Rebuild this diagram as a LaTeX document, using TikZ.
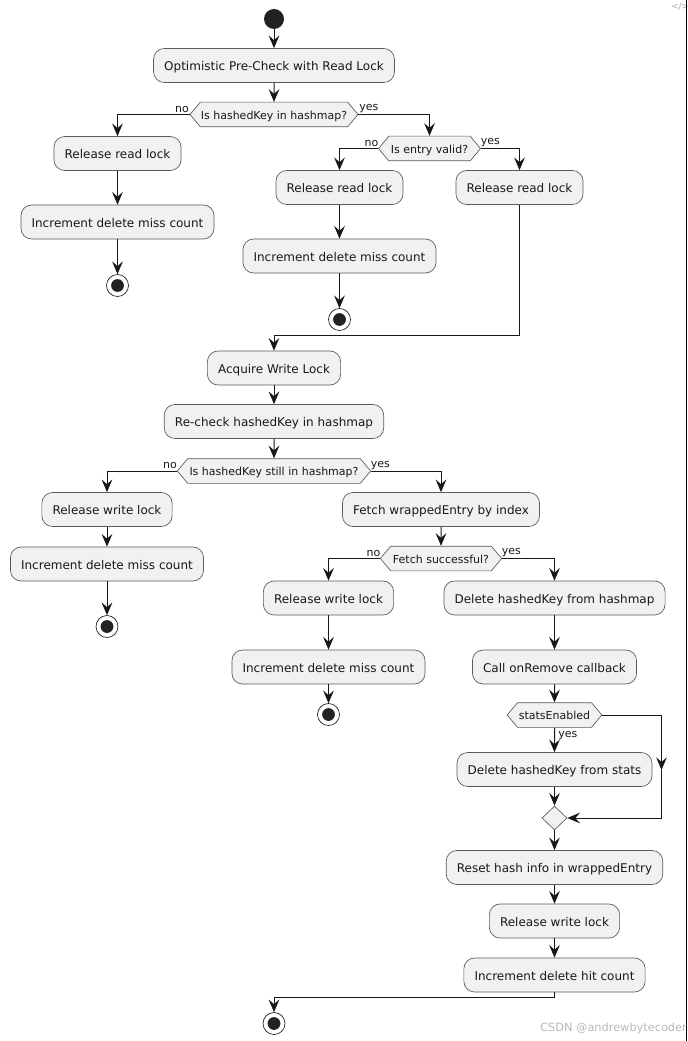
\documentclass[tikz,border=0pt]{standalone}
\usepackage{fontspec}
\setmainfont{DejaVu Sans}
\usepackage{xcolor}
\usepackage{tikz}
\usetikzlibrary{shapes.geometric, shapes.symbols, arrows.meta}
\definecolor{umlfill}{HTML}{F1F1F1}
\definecolor{umlline}{HTML}{181818}
\definecolor{umlborder}{HTML}{5A5A5A}
\definecolor{umldot}{HTML}{222222}
\tikzset{
    action/.style={draw=umlborder, fill=umlfill, line width=0.5pt, rounded corners=8pt, font=\fontsize{9}{11}\selectfont, text=umlline, inner xsep=8pt, minimum height=25.5pt, text height=8.5pt, text depth=0.5pt, inner ysep=0pt},
    choice/.style={draw=umlborder, fill=umlfill, line width=0.5pt, shape=signal, signal to=east and west, signal pointer angle=100, font=\fontsize{8.25}{10}\selectfont, text=umlline, inner xsep=0pt, inner ysep=0pt, minimum height=18.5pt, text height=7.5pt, text depth=0.5pt},
    merge/.style={draw=umlborder, fill=umlfill, line width=0.5pt, shape=diamond, minimum width=18.75pt, minimum height=18pt, inner sep=0pt},
    startdot/.style={circle, fill=umldot, minimum size=15pt, inner sep=0pt},
    stopdot/.style={circle, draw=umlline, fill=white, line width=0.5pt, minimum size=16.5pt, inner sep=0pt, path picture={\fill[umldot] (path picture bounding box.center) circle (4.8pt);}},
    branch/.style={font=\fontsize{8.25}{10}\selectfont, text=umlline, inner sep=0pt},
    flow/.style={draw=umlline, line width=0.75pt, -{Stealth[length=9.5pt, width=8pt, inset=3.5pt]}},
    plainflow/.style={draw=umlline, line width=0.75pt},
}
\begin{document}
\begin{tikzpicture}[x=0.75pt, y=-0.75pt]
    \clip (0,0) rectangle (687,1041);

    % Top part
    \node[startdot] (start) at (274,19) {};
    \node[action] (precheck) at (274,65.5) {Optimistic Pre-Check with Read Lock};
    \node[choice, minimum width=126pt] (inmap) at (274,114.5) {Is hashedKey in hashmap?};
    \node[action] (relreadA) at (117.5,153.5) {Release read lock};
    \node[action] (missA) at (117.5,222) {Increment delete miss count};
    \node[stopdot] (stopA) at (117.5,285.5) {};
    \node[choice, minimum width=76.5pt] (valid) at (429.5,148.5) {Is entry valid?};
    \node[action] (relreadB) at (339.5,187.5) {Release read lock};
    \node[action] (missB) at (339.5,256) {Increment delete miss count};
    \node[stopdot] (stopB) at (339.5,319.5) {};
    \node[action] (relreadC) at (519.5,187.5) {Release read lock};
    \coordinate (joinA) at (274,335.5);

    % Write lock part
    \node[action] (acquire) at (274,368) {Acquire Write Lock};
    \node[action] (recheck) at (274,421.5) {Re-check hashedKey in hashmap};
    \node[choice, minimum width=145pt] (stillin) at (274,471) {Is hashedKey still in hashmap?};
    \node[action] (relwriteA) at (107,509.5) {Release write lock};
    \node[action] (missC) at (107,564) {Increment delete miss count};
    \node[stopdot] (stopC) at (107,626.5) {};
    \node[action] (fetch) at (441,509.5) {Fetch wrappedEntry by index};
    \node[choice, minimum width=91pt] (fetched) at (441,558.5) {Fetch successful?};
    \node[action] (relwriteB) at (328.5,598) {Release write lock};
    \node[action] (missD) at (328.5,667) {Increment delete miss count};
    \node[stopdot] (stopD) at (328.5,714.5) {};

    % Delete part
    \node[action] (delmap) at (554.5,598) {Delete hashedKey from hashmap};
    \node[action] (callback) at (554.5,667) {Call onRemove callback};
    \node[choice, minimum width=71pt] (stats) at (554.5,715) {statsEnabled};
    \node[action] (delstats) at (554.5,769.5) {Delete hashedKey from stats};
    \node[merge] (mergeA) at (554.5,818) {};
    \node[action] (reset) at (554.5,867.5) {Reset hash info in wrappedEntry};
    \node[action] (relwriteC) at (554.5,921) {Release write lock};
    \node[action] (hitcount) at (554.5,975) {Increment delete hit count};
    \node[stopdot] (stopE) at (274,1023.5) {};
    \coordinate (joinB) at (274,997.5);
    \coordinate (statscorner) at (661.5,715);
    \coordinate (statsmid) at (661.5,770);
    \coordinate (mergecorner) at (661.5,818);

    % Draw paths
    \draw[flow] (start) -- (precheck);
    \draw[flow] (precheck) -- (inmap);
    \draw[flow] (inmap.west) -| (relreadA.north);
    \draw[flow] (relreadA) -- (missA);
    \draw[flow] (missA) -- (stopA);
    \draw[flow] (inmap.east) -| (valid.north);
    \draw[flow] (valid.west) -| (relreadB.north);
    \draw[flow] (relreadB) -- (missB);
    \draw[flow] (missB) -- (stopB);
    \draw[flow] (valid.east) -| (relreadC.north);
    \draw[flow] (relreadC.south) |- (joinA) -- (acquire.north);
    \draw[flow] (acquire) -- (recheck);
    \draw[flow] (recheck) -- (stillin);
    \draw[flow] (stillin.west) -| (relwriteA.north);
    \draw[flow] (relwriteA) -- (missC);
    \draw[flow] (missC) -- (stopC);
    \draw[flow] (stillin.east) -| (fetch.north);
    \draw[flow] (fetch) -- (fetched);
    \draw[flow] (fetched.west) -| (relwriteB.north);
    \draw[flow] (relwriteB) -- (missD);
    \draw[flow] (missD) -- (stopD);
    \draw[flow] (fetched.east) -| (delmap.north);
    \draw[flow] (delmap) -- (callback);
    \draw[flow] (callback) -- (stats);
    \draw[flow] (stats) -- (delstats);
    \draw[flow] (delstats) -- (mergeA);
    \draw[flow] (stats.east) -- (statscorner) -- (statsmid);
    \draw[plainflow] (statsmid) -- (mergecorner);
    \draw[flow] (mergecorner) -- (mergeA.east);
    \draw[flow] (mergeA) -- (reset);
    \draw[flow] (reset) -- (relwriteC);
    \draw[flow] (relwriteC) -- (hitcount);
    \draw[flow] (hitcount.south) |- (joinB) -- (stopE.north);

    % Branch labels
    \node[branch, anchor=east] (noA) at (189,109) {no};
    \node[branch, anchor=west] (yesA) at (359,109) {yes};
    \node[branch, anchor=east] (noB) at (378.5,143) {no};
    \node[branch, anchor=west] (yesB) at (480.5,143) {yes};
    \node[branch, anchor=east] (noC) at (177,465.5) {no};
    \node[branch, anchor=west] (yesC) at (370.5,465.5) {yes};
    \node[branch, anchor=east] (noD) at (380.5,553) {no};
    \node[branch, anchor=west] (yesD) at (501.5,553) {yes};
    \node[branch, anchor=west] (yesE) at (558,735.5) {yes};

    % Right edge and marks
    \coordinate (edgetop) at (686.5,0);
    \coordinate (edgebot) at (686.5,1041);
    \node[font=\fontsize{6.5}{8}\selectfont, text=gray!70, inner sep=0pt, anchor=west] (codemark) at (671,7) {</>};
    \draw[black, line width=0.9pt] (edgetop) -- (edgebot);
    \node[font=\fontsize{8.5}{10}\selectfont, text=gray!55, inner sep=0pt, anchor=west] (watermark) at (540,1028) {CSDN @andrewbytecoder};
\end{tikzpicture}
\end{document}
